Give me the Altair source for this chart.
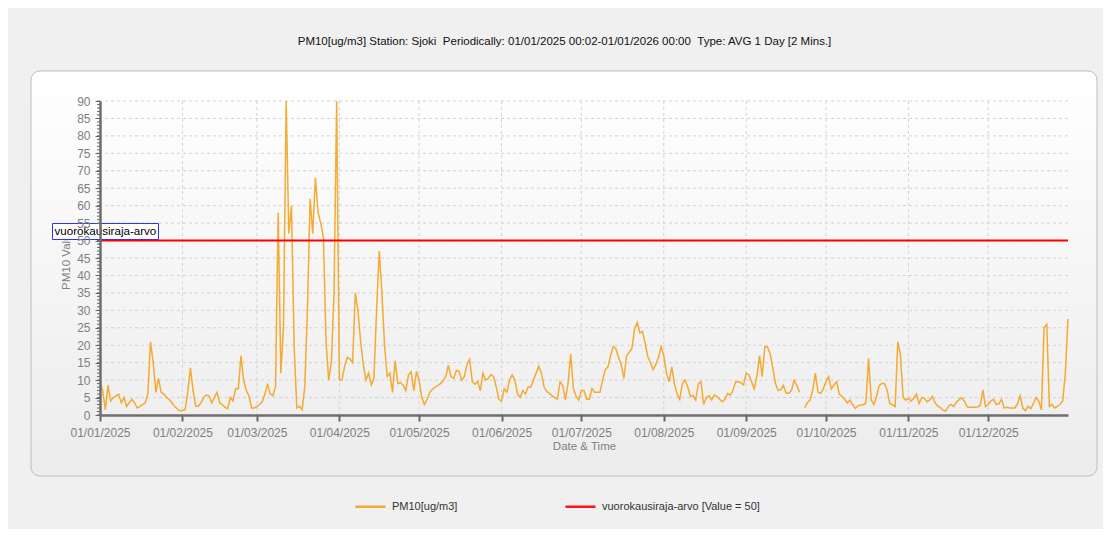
import altair as alt
import pandas as pd

# ---- daily PM10 values (ug/m3) ----
jan = [9.5, 7, 1.5, 8.5, 4, 5, 5.5, 6, 3.5, 5, 2.5, 3.5, 4.5, 3.5, 2, 2.5, 3, 3.5, 6, 21,
       15, 6.5, 10.5, 6.5, 6, 5, 4.5, 3.5, 2.5, 1.8, 1.2]
feb = [1.3, 1.5, 6.5, 13.5, 7, 2.5, 2.5, 3.5, 5, 5.7, 5.5, 3.5, 5, 6.5, 3.5, 3, 2.2, 1.8,
       5, 4, 7.5, 7.5, 17, 10, 7, 5.5, 2, 2]
mar = [2.5, 3, 3.8, 6, 9, 6, 5.5, 8, 58, 12, 25, 90, 52, 60, 20, 2, 2.5, 1.5, 8, 30, 62,
       52, 68, 58, 55, 51, 21, 10, 15, 35, 90]
apr = [10, 10, 14, 16.5, 16, 15, 35, 30, 21, 14.5, 10, 12, 8.6, 10.5, 30, 47, 35, 20, 11,
       12, 6.5, 15.5, 9, 9.3, 8.5, 7, 11.5, 12.4, 7, 12.5]
may = [10, 5, 3, 4.5, 6.5, 7.4, 8, 8.4, 9, 9.8, 11, 14.3, 11, 10.5, 12.8, 12.5, 10, 11,
       14.5, 16, 9.5, 8.8, 9.6, 7, 12, 10, 10.5, 11.6, 11, 8, 4.5]
jun = [4, 7.5, 6.5, 10, 11.5, 10, 6, 5, 7, 6, 8, 8, 10, 12, 14, 12, 8, 6.8, 6.2, 5.5, 5,
       4.5, 9.5, 8.5, 4.3, 9, 17.5, 7.5, 5.5, 4.3]
jul = [7, 7, 4.5, 4.5, 7.6, 6.5, 6.5, 6.5, 10, 13, 13.8, 17, 19.6, 19, 16.5, 14.5, 10.5,
       17, 18, 19, 24.5, 26.5, 23.5, 24, 20.5, 16.7, 15, 13, 14.5, 16.5, 19.6]
aug = [17, 12, 9.5, 13.8, 9, 6, 4.5, 9, 10, 8, 5.3, 5.6, 4.3, 9, 9.5, 3, 5, 5.5, 4.3, 5.7,
       5.3, 4.5, 3.8, 4.5, 6.2, 5.6, 7, 9.5, 9.6, 9.2, 8.6]
sep = [12, 11.5, 9.5, 7.5, 11, 17, 11, 19.6, 19.5, 17.5, 13.5, 9, 7, 7.3, 8.5, 6.2, 6.2,
       7, 10, 8.5, 6.5, None, 2, 3.5, 4.3, 7, 12, 6.5, 6.2, 7.5]
oct_ = [9.6, 11, 7.5, 8.6, 9.5, 6, 5.3, 4.5, 3.5, 4.3, 3, 1.9, 2.6, 2.9, 2.9, 3.5, 16.2,
        4.3, 3, 5.3, 8.5, 9, 9, 7, 3.3, 2.9, 2.4, 21, 17, 5, 4.3]
nov = [4.8, 4, 4.8, 6, 3.3, 5, 4.8, 3.8, 4.3, 5.3, 3.5, 2.5, 2.1, 1.4, 1.1, 2.4, 3, 2.4,
       3.6, 4.4, 5, 4, 2.4, 2.2, 2.2, 2.2, 2.3, 2.8, 7.2, 2.4]
dec = [3, 4, 4.5, 3, 3.2, 4.5, 2, 2.2, 2, 2, 2, 3.2, 5.5, 2, 1.2, 2.5, 1.8, 3.3, 5, 4,
       1.5, 25, 26, 2.5, 3, 2, 2.5, 3, 4, 12, 27.5]

pm10_values = jan + feb + mar + apr + may + jun + jul + aug + sep + oct_ + nov + dec
day_dates = pd.date_range("2025-01-01", periods=len(pm10_values), freq="D")
month_starts = pd.date_range("2025-01-01", periods=12, freq="MS")
y_major = list(range(5, 91, 5))
y_minor = list(range(0, 91))

series_name = "PM10[ug/m3]"
limit_name = "vuorokausiraja-arvo [Value = 50]"
limit_value = 50
limit_label = "vuorokausiraja-arvo"
y_title = "PM10 Value"
NB = "\u00a0"
title_text = ("PM10[ug/m3] Station: Sjoki " + NB + "Periodically: 01/01/2025 00:02-01/01/2026 00:00 "
              + NB + "Type: AVG 1 Day [2 Mins.]")

ORANGE = "#F4A21E"
RED = "#FF0000"
GRAY = "#808080"

line_df = pd.DataFrame({"date": day_dates.strftime("%Y-%m-%dT%H:%M:%S"),
                        "value": pm10_values, "series": series_name})
limit_df = pd.DataFrame({"value": [limit_value], "series": [limit_name]})
month_df = pd.DataFrame({"date": month_starts.strftime("%Y-%m-%dT%H:%M:%S")})
ymaj_df = pd.DataFrame({"value": y_major})
ymin_df = pd.DataFrame({"value": y_minor})

x_scale = alt.Scale(domain=[alt.DateTime(year=2025, month=1, date=1),
                            alt.DateTime(year=2025, month=12, date=31)])
y_scale = alt.Scale(domain=[0, 90], nice=False)

x_axis = alt.Axis(values=[alt.DateTime(year=2025, month=m, date=1) for m in range(1, 13)],
                  format="%d/%m/%Y", title="Date & Time", grid=False,
                  labelFontSize=12, labelColor=GRAY, labelFlush=False, labelOverlap=False,
                  labelPadding=6, tickSize=6, tickColor="#666666", tickWidth=2,
                  domainColor="#6E6E6E", domainWidth=2.5,
                  titleFontSize=11.5, titleFontWeight="normal", titleColor=GRAY,
                  titlePadding=2, zindex=1)
y_axis = alt.Axis(values=list(range(0, 91, 5)), title=None, grid=False,
                  labelFontSize=12, labelColor=GRAY, labelPadding=5,
                  tickSize=5, tickColor="#666666", tickWidth=1,
                  domainColor="#6E6E6E", domainWidth=2.5, zindex=1)

X = alt.X("date:T", scale=x_scale, axis=x_axis)
Y = alt.Y("value:Q", scale=y_scale, axis=y_axis)
C = alt.Color("series:N",
              scale=alt.Scale(domain=[series_name, limit_name], range=[ORANGE, RED]),
              legend=alt.Legend(title=None, orient="none", legendX=254, legendY=389,
                                direction="horizontal", symbolType="stroke",
                                symbolSize=900, symbolStrokeWidth=2.5,
                                labelFontSize=11, labelColor="#333333", labelOffset=5,
                                columnPadding=102, padding=0, labelLimit=400))

one = pd.DataFrame({"k": [0]})

panel = alt.Chart(one).mark_rect(
    cornerRadius=9, stroke="#BDBDBD", strokeWidth=1,
    fill={"gradient": "linear", "x1": 0, "x2": 0, "y1": 0, "y2": 1,
          "stops": [{"offset": 0, "color": "#FFFFFF"}, {"offset": 1, "color": "#ECECEC"}]}
).encode(x=alt.value(-69), x2=alt.value(997), y=alt.value(-30), y2=alt.value(375))

xgrid = alt.Chart(month_df).mark_rule(color="#D3D3D3", strokeDash=[3, 3], strokeWidth=1).encode(x=X)
ygrid = alt.Chart(ymaj_df).mark_rule(color="#D3D3D3", strokeDash=[3, 3], strokeWidth=1).encode(y=Y)
minor = alt.Chart(ymin_df).mark_rule(color="#666666", strokeWidth=1).encode(
    y=Y, x=alt.value(-3), x2=alt.value(0))

line = alt.Chart(line_df).mark_line(strokeWidth=1.5, opacity=0.9,
                                    invalid="break-paths-show-domains").encode(
    x=X, y=Y, color=C)
limit = alt.Chart(limit_df).mark_rule(strokeWidth=2).encode(y=Y, color=C)

ytitle = alt.Chart(pd.DataFrame({"t": [y_title]})).mark_text(
    angle=270, fontSize=11.5, color=GRAY, align="center", baseline="middle"
).encode(x=alt.value(-33), y=alt.value(158), text="t:N")

box = alt.Chart(one).mark_rect(fill="#FFFFFF", stroke="#2F2FFF", strokeWidth=1).encode(
    x=alt.value(-47.5), x2=alt.value(58.5), y=alt.value(122.5), y2=alt.value(138.5))
box_text = alt.Chart(pd.DataFrame({"t": [limit_label]})).mark_text(
    align="left", baseline="middle", fontSize=11.6, color="#000000"
).encode(x=alt.value(-45.5), y=alt.value(131), text="t:N")

title = alt.Chart(pd.DataFrame({"t": [title_text]})).mark_text(
    align="center", baseline="middle", fontSize=11.5, color="#111111"
).encode(x=alt.value(464.5), y=alt.value(-59), text="t:N")

chart = alt.layer(panel, xgrid, ygrid, minor, line, limit, ytitle, box, box_text, title).properties(
    width=968, height=314,
    autosize=alt.AutoSizeParams(type="none"),
    padding={"left": 92, "top": 93, "right": 35, "bottom": 114},
    background="#F0F0F0",
).configure(font="Liberation Sans").configure_view(strokeWidth=0)

chart.save("out.html", embed_options={"renderer": "svg", "actions": False})
